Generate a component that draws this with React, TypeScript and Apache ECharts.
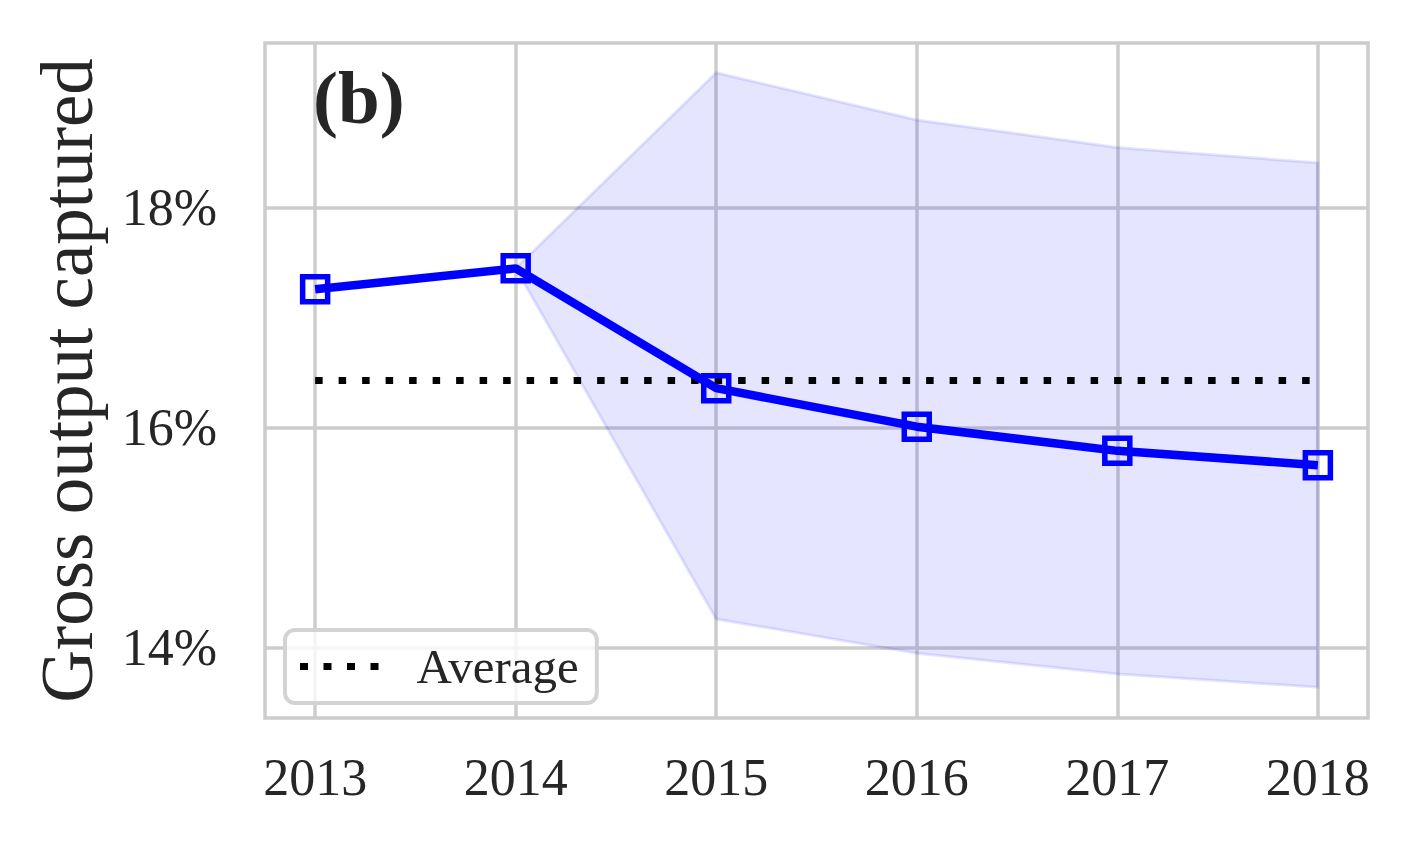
import React, { useEffect, useRef } from "react";
import * as echarts from "echarts";

const years = [2013, 2014, 2015, 2016, 2017, 2018];
const captured = [17.26, 17.45, 16.36, 16.01, 15.79, 15.66];
const averageValue = 16.43;
const bandYears = [2014, 2015, 2016, 2017, 2018];
const bandUpper = [17.45, 19.23, 18.8, 18.55, 18.41];
const bandLower = [17.45, 14.26, 13.95, 13.76, 13.64];
const yTicks = [14, 16, 18];

const FONT = "Liberation Serif";
const TEXT = "#262626";
const GRID = "#cccccc";
const DOTS_ICON = "path://M0,0h8v7h-8z M23.5,0h8v7h-8z M47,0h8v7h-8z M70.5,0h8v7h-8z";

export default function App() {
  const ref = useRef<HTMLDivElement>(null);
  useEffect(() => {
    document.body.style.margin = "0";
    const chart = echarts.init(ref.current!, null, { renderer: "svg" });
    chart.setOption({
      animation: false,
      backgroundColor: "#ffffff",
      title: {
        text: "(b)",
        left: 308,
        top: 55,
        textStyle: { fontFamily: FONT, fontSize: 75, fontWeight: "bold", color: TEXT },
      },
      grid: {
        left: 265,
        right: 46,
        top: 43,
        bottom: 132,
        outerBoundsMode: "none",
        containLabel: false,
        show: true,
        borderColor: GRID,
        borderWidth: 3.5,
        backgroundColor: "transparent",
      },
      legend: {
        data: [{ name: "Average", icon: DOTS_ICON }],
        left: 285,
        top: 630,
        padding: [12, 18, 12, 15],
        itemWidth: 78.5,
        itemHeight: 7,
        itemStyle: { color: "#000000", borderWidth: 0 },
        backgroundColor: "rgba(255,255,255,0.8)",
        borderColor: "#d3d3d3",
        borderWidth: 4,
        borderRadius: 10,
        textStyle: { fontFamily: FONT, fontSize: 49, color: TEXT, padding: [0, 0, 0, 33] },
      },
      xAxis: {
        type: "value",
        min: 2012.75,
        max: 2018.25,
        axisLine: { show: false },
        axisTick: { show: false, customValues: years },
        axisLabel: {
          customValues: years,
          fontFamily: FONT,
          fontSize: 52,
          color: TEXT,
          margin: 33,
          formatter: (v: number) => String(v),
        },
        splitLine: { show: true, lineStyle: { color: GRID, width: 3.5 } },
      },
      yAxis: {
        type: "value",
        min: 13.36,
        max: 19.5,
        name: "Gross output captured",
        nameLocation: "middle",
        nameRotate: 90,
        nameGap: 161,
        nameTextStyle: { fontFamily: FONT, fontSize: 73, color: TEXT },
        axisLine: { show: false },
        axisTick: { show: false, customValues: yTicks },
        axisLabel: {
          customValues: yTicks,
          fontFamily: FONT,
          fontSize: 52,
          color: TEXT,
          margin: 48,
          formatter: (v: number) => v + "%",
        },
        splitLine: { show: true, lineStyle: { color: GRID, width: 3.5 } },
      },
      series: [
        {
          type: "custom",
          name: "band",
          z: 2,
          data: [[bandYears[0], bandUpper[0]]],
          renderItem: (params: any, api: any) => {
            const pts: number[][] = [];
            for (let i = 0; i < bandYears.length; i++) pts.push(api.coord([bandYears[i], bandUpper[i]]));
            for (let i = bandYears.length - 1; i >= 0; i--) pts.push(api.coord([bandYears[i], bandLower[i]]));
            return {
              type: "polygon",
              shape: { points: pts },
              style: { fill: "rgba(0,0,255,0.1)", stroke: "rgba(0,0,255,0.1)", lineWidth: 3 },
            };
          },
        },
        {
          type: "line",
          name: "Average",
          z: 3,
          data: [
            [years[0], averageValue],
            [years[years.length - 1], averageValue],
          ],
          symbol: "none",
          itemStyle: { color: "#000000" },
          lineStyle: { color: "#000000", width: 7, type: [7.5, 16], cap: "butt" },
        },
        {
          type: "line",
          name: "Captured",
          z: 4,
          data: years.map((y, i) => [y, captured[i]]),
          symbol: "rect",
          symbolSize: 25,
          lineStyle: { color: "#0000ff", width: 8.5 },
          itemStyle: { color: "rgba(0,0,0,0)", borderColor: "#0000ff", borderWidth: 5.5 },
        },
      ],
    });
    return () => chart.dispose();
  }, []);
  return <div ref={ref} style={{ width: 1414, height: 850 }} />;
}
